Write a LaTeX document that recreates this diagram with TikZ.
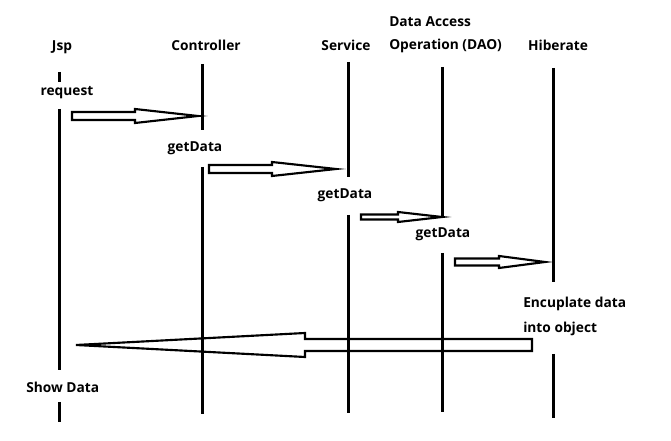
\documentclass[tikz,border=0pt]{standalone}
\usepackage{fontspec}
\setmainfont{Open Sans}
\usetikzlibrary{calc}
\begin{document}
\begin{tikzpicture}[x=0.75pt,y=-0.75pt,
  lbl/.style={font=\bfseries\fontsize{10.3}{12}\selectfont, inner sep=0pt, text=black, yshift=-1pt},
  life/.style={line width=2.25pt},
  blk/.style={draw=black, fill=white, line width=1.6pt, line join=miter}]
\useasboundingbox (0,0) rectangle (671,441);
% headers
\node[lbl] (jsp) at (62,46) {Jsp};
\node[lbl] (ctrl) at (206,44) {Controller};
\node[lbl] (srv) at (346,44) {Service};
\node[lbl, anchor=west] (dao1) at (389,20) {Data Access};
\node[lbl, anchor=west] (dao) at (389,45) {Operation (DAO)};
\node[lbl] (hib) at (558,44) {Hiberate};
% message labels
\node[lbl] (req) at (67,91) {request};
\node[lbl] (gd1) at (195,147) {getData};
\node[lbl] (gd2) at (345,194) {getData};
\node[lbl] (gd3) at (443,233) {getData};
\node[lbl, anchor=west] (enc1) at (523,303) {Encuplate data};
\node[lbl, anchor=west] (enc2) at (523,328) {into object};
\node[lbl, anchor=west] (show) at (26,386) {Show Data};
% lifeline coordinates
\coordinate (j0) at (59,72);  \coordinate (j1) at (59,82);
\coordinate (j2) at (59,109); \coordinate (j3) at (59,370);
\coordinate (j4) at (59,402); \coordinate (j5) at (59,422);
\coordinate (c0) at (202,64); \coordinate (c1) at (202,130);
\coordinate (c2) at (202,167); \coordinate (c3) at (202,414);
\coordinate (s0) at (348,62); \coordinate (s1) at (348,177);
\coordinate (s2) at (348,215); \coordinate (s3) at (348,413);
\coordinate (d0) at (442,67); \coordinate (d1) at (442,217);
\coordinate (d2) at (442,253); \coordinate (d3) at (442,412);
\coordinate (h0) at (553,68); \coordinate (h1) at (553,282);
\coordinate (h2) at (553,354); \coordinate (h3) at (553,418);
\draw[life] (j0) -- (j1) (j2) -- (j3) (j4) -- (j5);
\draw[life] (c0) -- (c1) (c2) -- (c3);
\draw[life] (s0) -- (s1) (s2) -- (s3);
\draw[life] (d0) -- (d1) (d2) -- (d3);
\draw[life] (h0) -- (h1) (h2) -- (h3);
% block arrows: tail, head base, tip
\coordinate (a1t) at (72,116);  \coordinate (a1h) at (135,116); \coordinate (a1p) at (198,116);
\coordinate (a2t) at (209,169); \coordinate (a2h) at (272,169); \coordinate (a2p) at (336,169);
\coordinate (a3t) at (361,217); \coordinate (a3h) at (398,217); \coordinate (a3p) at (442,217);
\coordinate (a4t) at (455,262); \coordinate (a4h) at (499,262); \coordinate (a4p) at (545,262);
\coordinate (a5t) at (532,345); \coordinate (a5h) at (305,345); \coordinate (a5p) at (76,345);
\draw[blk] ($(a1t)+(0,-4)$) -- ($(a1h)+(0,-4)$) -- ($(a1h)+(0,-7)$) -- (a1p) -- ($(a1h)+(0,7)$) -- ($(a1h)+(0,4)$) -- ($(a1t)+(0,4)$) -- cycle;
\draw[blk] ($(a2t)+(0,-4)$) -- ($(a2h)+(0,-4)$) -- ($(a2h)+(0,-7)$) -- (a2p) -- ($(a2h)+(0,7)$) -- ($(a2h)+(0,4)$) -- ($(a2t)+(0,4)$) -- cycle;
\draw[blk] ($(a3t)+(0,-2.5)$) -- ($(a3h)+(0,-2.5)$) -- ($(a3h)+(0,-5)$) -- (a3p) -- ($(a3h)+(0,5)$) -- ($(a3h)+(0,2.5)$) -- ($(a3t)+(0,2.5)$) -- cycle;
\draw[blk] ($(a4t)+(0,-3.5)$) -- ($(a4h)+(0,-3.5)$) -- ($(a4h)+(0,-6)$) -- (a4p) -- ($(a4h)+(0,6)$) -- ($(a4h)+(0,3.5)$) -- ($(a4t)+(0,3.5)$) -- cycle;
\draw[blk, fill=none] ($(a5t)+(0,-6)$) -- ($(a5h)+(0,-6)$) -- ($(a5h)+(0,-12)$) -- (a5p) -- ($(a5h)+(0,12)$) -- ($(a5h)+(0,6)$) -- ($(a5t)+(0,6)$) -- cycle;
\end{tikzpicture}
\end{document}
